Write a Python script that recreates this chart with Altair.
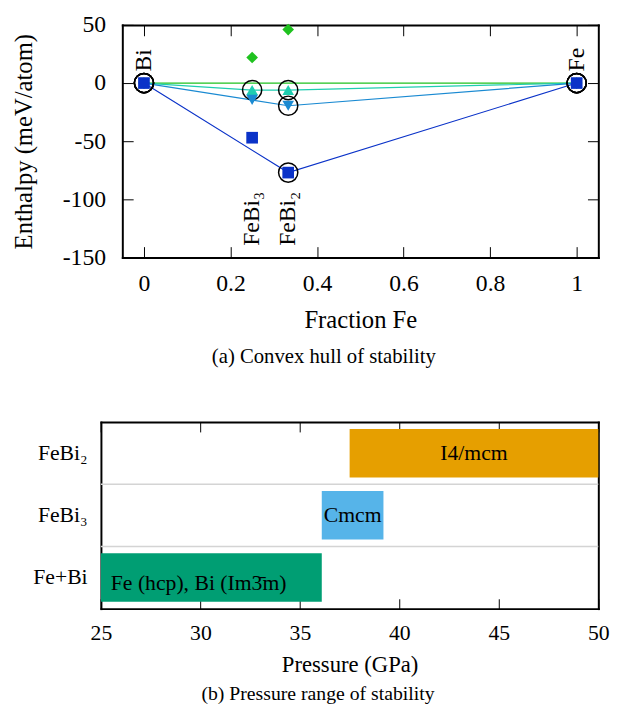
import altair as alt
import pandas as pd

# ---------------- (a) convex hull data ----------------
series = ["30 GPa", "38 GPa", "40 GPa", "50 GPa"]
compounds = ["Bi", "FeBi₃", "FeBi₂", "Fe"]
frac_fe = [0.0, 0.25, 1 / 3, 1.0]
h_30 = [0.0, 22.0, 46.0, 0.0]
h_38 = [0.0, -6.0, -6.0, 0.0]
h_40 = [0.0, -14.5, -19.5, 0.0]
h_50 = [0.0, -47.0, -77.0, 0.0]
hull_30 = [True, False, False, True]
hull_38 = [True, True, True, True]
hull_40 = [True, False, True, True]
hull_50 = [True, False, True, True]
label_y = [10, -140, -140, 10]
series_colors = ["#1fc21f", "#1fcdb0", "#1a8ad2", "#0a32c8"]
series_shapes = ["diamond", "triangle-up", "triangle-down", "square"]
x_ticks = [0, 0.2, 0.4, 0.6, 0.8, 1]
y_ticks = [-150, -100, -50, 0, 50]

# ---------------- (b) pressure range data ----------------
phases = ["FeBi₂", "FeBi₃", "Fe+Bi"]
structures = ["I4/mcm", "Cmcm", "Fe (hcp), Bi (Im3̄m)"]
p_start = [37.5, 36.1, 25.0]
p_end = [50.0, 39.2, 36.1]
phase_colors = ["#e69f00", "#56b4e9", "#009e73"]
p_ticks = [25, 30, 35, 40, 45, 50]

FONT = "Liberation Serif"
TICK_IN = alt.ExprRef(expr="-11")
TICK_IN_B = alt.ExprRef(expr="-10")

rows = []
for s, hs, hull in zip(series, [h_30, h_38, h_40, h_50], [hull_30, hull_38, hull_40, hull_50]):
    for c, x, h, on in zip(compounds, frac_fe, hs, hull):
        rows.append(dict(series=s, compound=c, x=x, h=h, hull=on))
df = pd.DataFrame(rows)
df_lab = pd.DataFrame(dict(compound=compounds, x=frac_fe, y=label_y))

xs = alt.Scale(domain=[-0.05, 1.05], nice=False, zero=False)
ys = alt.Scale(domain=[-150, 50], nice=False, zero=False)
cs = alt.Scale(domain=series, range=series_colors)
ls = alt.Scale(domain=series, range=series_colors)
ss = alt.Scale(domain=series, range=series_shapes)

common_axis = dict(grid=False, domainColor="black", domainWidth=2, domainCap="square",
                   tickColor="black", tickWidth=1, labelColor="black", labelFont=FONT,
                   titleFont=FONT, titleColor="black", titleFontWeight="normal",
                   labelFlush=False, labelOverlap=False)
no_reserve = dict(minExtent=1, maxExtent=1)

ax_bottom = alt.Axis(orient="bottom", values=x_ticks, format="~g", title="Fraction Fe",
                     titleFontSize=25, titlePadding=12, labelFontSize=24, labelPadding=26,
                     tickSize=TICK_IN, **common_axis)
ax_left = alt.Axis(orient="left", values=y_ticks,
                   labelExpr="datum.value < 0 ? '-' + format(-datum.value, 'd') : format(datum.value, 'd')",
                   title="Enthalpy (meV/atom)", titleFontSize=25, titlePadding=26,
                   labelFontSize=24, labelPadding=28, tickSize=TICK_IN, **common_axis)
ax_top = alt.Axis(orient="top", values=x_ticks, labels=False, title=None,
                  tickSize=TICK_IN, **no_reserve, **common_axis)
ax_right = alt.Axis(orient="right", values=y_ticks, labels=False, title=None,
                    tickSize=TICK_IN, **no_reserve, **common_axis)

base = alt.Chart(df)
lines = base.transform_filter("datum.hull").mark_line(strokeWidth=1.2).encode(
    x=alt.X("x:Q", scale=xs, axis=ax_bottom),
    y=alt.Y("h:Q", scale=ys, axis=ax_left),
    stroke=alt.Stroke("series:N", scale=ls, legend=None),
    order="x:Q",
)
circles = base.transform_filter("datum.hull").mark_point(
    shape="circle", filled=False, size=380, stroke="black", strokeWidth=1.5, opacity=1
).encode(
    x=alt.X("x:Q", scale=xs, axis=ax_top),
    y=alt.Y("h:Q", scale=ys, axis=ax_right),
)
legend = alt.Legend(title=None, orient="none", legendX=430, legendY=123.5, labelAlign="right",
                    labelOffset=alt.ExprRef(expr="-39"), labelFont=FONT, labelFontSize=24,
                    labelColor="black", symbolSize=140, symbolStrokeWidth=0, rowPadding=1,
                    padding=0)
points = base.mark_point(filled=True, size=140, opacity=1).encode(
    x=alt.X("x:Q", scale=xs, axis=None),
    y=alt.Y("h:Q", scale=ys, axis=None),
    color=alt.Color("series:N", scale=cs, legend=legend),
    shape=alt.Shape("series:N", scale=ss, legend=legend),
)
texts = alt.Chart(df_lab).mark_text(angle=270, align="left", baseline="middle",
                                    font=FONT, fontSize=24, color="black").encode(
    x=alt.X("x:Q", scale=xs, axis=None),
    y=alt.Y("y:Q", scale=ys, axis=None),
    text="compound:N",
)
top = alt.layer(lines, circles, points, texts).resolve_axis(
    x="independent", y="independent"
).properties(
    width=483, height=236,
    title=alt.TitleParams("(a) Convex hull of stability", orient="bottom", anchor="middle",
                          font=FONT, fontSize=21, fontWeight="normal", color="black",
                          offset=14, dx=-37),
)

# ---------------- (b) chart ----------------
dfb = pd.DataFrame(dict(phase=phases, structure=structures, start=p_start, end=p_end))
dfb["mid"] = (dfb["start"] + dfb["end"]) / 2
dfr = pd.DataFrame(dict(phase=phases[1:], p0=[p_ticks[0]] * 2, p1=[p_ticks[-1]] * 2))

BW = 483
pxs = alt.Scale(domain=[p_ticks[0], p_ticks[-1]], nice=False, zero=False, range=[-21.7, BW])
pys = alt.Scale(domain=phases, paddingInner=0, paddingOuter=0)

bx_bottom = alt.Axis(orient="bottom", values=p_ticks, title="Pressure (GPa)", titleFontSize=23,
                     titlePadding=11, labelFontSize=22, labelPadding=24, tickSize=TICK_IN_B,
                     **common_axis)
bx_top = alt.Axis(orient="top", values=p_ticks, labels=False, title=None,
                  tickSize=TICK_IN_B, **no_reserve, **common_axis)
by_left = alt.Axis(orient="left", offset=21.7, title=None, ticks=False, labelFontSize=22,
                   labelPadding=14, **common_axis)
by_right = alt.Axis(orient="right", title=None, ticks=False, labels=False,
                    **no_reserve, **common_axis)

bars = alt.Chart(dfb).mark_bar(height=alt.RelativeBandSize(0.78)).encode(
    y=alt.Y("phase:N", scale=pys, axis=by_left, sort=phases),
    x=alt.X("start:Q", scale=pxs, axis=bx_bottom),
    x2="end:Q",
    color=alt.Color("phase:N", scale=alt.Scale(domain=phases, range=phase_colors), legend=None),
)
seps = alt.Chart(dfr).mark_rule(color="#d4d4d4", strokeWidth=1.5).encode(
    y=alt.Y("phase:N", scale=pys, axis=by_right, bandPosition=0, sort=phases),
    x=alt.X("p0:Q", scale=pxs, axis=bx_top),
    x2="p1:Q",
)
txt_c = alt.Chart(dfb).transform_filter(
    alt.FieldOneOfPredicate(field="phase", oneOf=phases[:2])
).mark_text(font=FONT, fontSize=22, color="black", baseline="middle").encode(
    x=alt.X("mid:Q", scale=pxs, axis=None),
    y=alt.Y("phase:N", scale=pys, axis=None, sort=phases),
    text="structure:N",
)
txt_l = alt.Chart(dfb).transform_filter(
    alt.FieldEqualPredicate(field="phase", equal=phases[2])
).mark_text(font=FONT, fontSize=22, color="black", baseline="middle", align="left",
            dx=10, dy=6).encode(
    x=alt.X("start:Q", scale=pxs, axis=None),
    y=alt.Y("phase:N", scale=pys, axis=None, sort=phases),
    text="structure:N",
)
bottom = alt.layer(bars, seps, txt_c, txt_l).resolve_axis(
    x="independent", y="independent"
).properties(
    width=BW, height=189.3,
    title=alt.TitleParams("(b) Pressure range of stability", orient="bottom", anchor="middle",
                          font=FONT, fontSize=20, fontWeight="normal", color="black",
                          offset=8, dx=-43),
)

chart = alt.vconcat(top, bottom, spacing=55).resolve_scale(
    color="independent", shape="independent", stroke="independent"
).properties(
    padding={"left": 4, "top": 0, "right": 0, "bottom": 0}
).configure_view(strokeWidth=0)

chart.save("out.html", embed_options={"renderer": "svg", "actions": False})
